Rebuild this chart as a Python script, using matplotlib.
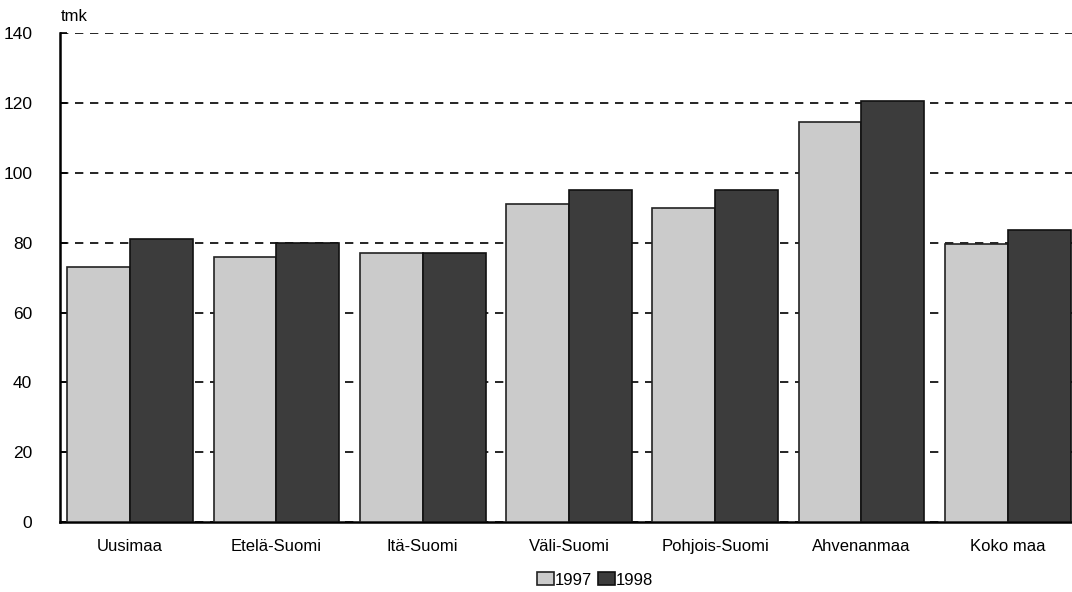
import numpy as np
import matplotlib.pyplot as plt

plt.rcParams['font.family'] = ['Liberation Sans', 'DejaVu Sans']

alueet = ['Uusimaa', 'Etelä-Suomi', 'Itä-Suomi', 'Väli-Suomi',
          'Pohjois-Suomi', 'Ahvenanmaa', 'Koko maa']
v1997 = [73, 76, 77, 91, 90, 114.5, 79.5]
v1998 = [81, 80, 77, 95, 95, 120.5, 83.5]
vuodet = ['1997', '1998']

fig = plt.figure(figsize=(10.72, 5.92), dpi=100)
ax = fig.add_axes([0.056, 0.118, 0.944, 0.826])

x = np.arange(len(alueet))
w = 0.43
ax.bar(x - w / 2, v1997, w, color='#cbcbcb', edgecolor='#222222', linewidth=1.2,
       label=vuodet[0], zorder=3)
ax.bar(x + w / 2, v1998, w, color='#3c3c3c', edgecolor='#111111', linewidth=1.2,
       label=vuodet[1], zorder=3)

ax.set_ylim(0, 140)
ax.set_xlim(-0.48, len(alueet) - 0.56)
ax.set_yticks(range(0, 141, 20))
ax.set_xticks(x)
ax.set_xticklabels(alueet, fontsize=12)
ax.tick_params(axis='y', labelsize=12.5, direction='in', length=5, width=1.2, pad=20)
ax.tick_params(axis='x', length=0, pad=12)

ax.grid(axis='y', linestyle=(0, (5, 4)), color='black', linewidth=1.2, zorder=0)
for s in ['top', 'right']:
    ax.spines[s].set_visible(False)
ax.spines['left'].set_linewidth(1.8)
ax.spines['bottom'].set_linewidth(1.8)

fig.text(0.057, 0.965, 'tmk', fontsize=12)

fig.legend(loc='lower center', bbox_to_anchor=(0.555, -0.018), ncol=2, frameon=False,
           fontsize=12, handlelength=1.0, handleheight=0.8, handletextpad=0.05,
           columnspacing=0.4)

fig.savefig('out.png', dpi=100)
